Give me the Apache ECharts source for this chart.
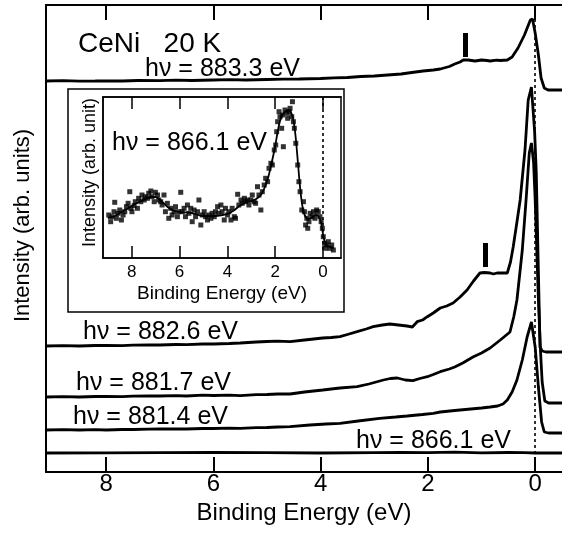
<!DOCTYPE html>
<html><head><meta charset="utf-8">
<script src="https://cdn.jsdelivr.net/npm/echarts@6/dist/echarts.min.js"></script>
<style>html,body{margin:0;padding:0;background:#fff}#c{width:562px;height:536px}</style>
</head><body><div id="c"></div>
<script>
// ---- data (binding energy eV, intensity arb. units) ----
const tickValues = [0, 2, 4, 6, 8];

const hv883_3 = [[9.12,391],[8.8,391.3],[8.5,390.8],[8.2,391],[8.0,391.2],[7.7,391],[7.4,391.5],[7.0,391.3],[6.7,391.8],[6.4,391.5],[6.0,392],[5.7,392.3],[5.4,392],[5.0,392.5],[4.7,392.8],[4.4,393],[4.0,393.5],[3.75,394.2],[3.5,394.5],[3.25,395.5],[3.0,396],[2.75,397],[2.5,398],[2.3,399.5],[2.09,401],[1.9,402],[1.77,403],[1.6,405.5],[1.5,408],[1.4,410],[1.34,412],[1.25,412],[1.12,411],[1.0,412],[0.9,411.5],[0.84,411],[0.72,411.8],[0.65,411.5],[0.52,412],[0.43,415],[0.32,424],[0.2,437],[0.09,452],[0.05,453],[0,439],[-0.06,417],[-0.11,394],[-0.17,384],[-0.24,382],[-0.35,382],[-0.5,382]];

const hv882_6 = [[9.12,126],[8.8,126.3],[8.5,126],[8.2,126.5],[8.0,126.5],[7.7,126.3],[7.5,126.8],[7.2,127],[7.0,127],[6.7,127.5],[6.5,127.3],[6.2,128],[6.0,128],[5.7,128.5],[5.5,129],[5.2,130],[5.0,130.5],[4.8,130.8],[4.57,130.3],[4.3,132],[3.96,134],[3.8,134.5],[3.64,135.3],[3.5,137.5],[3.32,140.3],[3.15,143],[3.02,145.3],[2.85,147],[2.71,148],[2.55,147],[2.39,146],[2.29,145],[2.2,150.3],[2.1,152],[2.01,155.3],[1.9,159],[1.77,164],[1.65,166],[1.53,169],[1.4,175],[1.27,182],[1.15,191],[1.03,199],[0.95,199.5],[0.84,199],[0.78,198],[0.71,199],[0.6,199],[0.52,199],[0.46,210],[0.41,225],[0.34,250],[0.28,272],[0.19,322],[0.13,372],[0.07,385],[0.04,383],[0.01,340],[-0.02,300],[-0.06,200],[-0.09,125],[-0.13,121],[-0.2,120],[-0.35,120],[-0.5,120]];

const hv881_7 = [[9.12,75],[8.8,75.3],[8.5,75],[8.2,75.5],[8.0,75.5],[7.7,75.3],[7.5,75.8],[7.2,76],[7.0,76],[6.7,76.3],[6.5,76],[6.2,76.8],[6.0,76.5],[5.7,76.8],[5.5,76.3],[5.2,77.3],[5.0,77.5],[4.8,78],[4.57,78],[4.3,80],[3.96,82],[3.64,84],[3.32,85.3],[3.1,88],[2.83,92],[2.7,93.5],[2.57,94],[2.42,92],[2.28,91.3],[2.15,93.5],[2.01,95.3],[1.9,97.5],[1.77,100.3],[1.6,103],[1.5,105],[1.35,109],[1.16,115],[1.0,119],[0.84,124],[0.65,132],[0.47,140],[0.4,155],[0.34,172],[0.24,222],[0.17,272],[0.11,319],[0.07,329],[0.03,310],[0.0,272],[-0.06,172],[-0.1,120],[-0.13,90],[-0.18,71],[-0.25,69],[-0.5,69]];

const hv881_4 = [[9.12,42],[8.8,42.3],[8.5,42],[8.2,42.3],[8.0,42],[7.7,42.5],[7.5,42.5],[7.2,42.8],[7.0,43],[6.7,43.2],[6.5,43],[6.2,43.5],[6.0,43.5],[5.7,43.8],[5.5,43.7],[5.2,44.3],[5.0,44.5],[4.8,45],[4.57,45.3],[4.2,47],[3.9,48],[3.64,48.7],[3.3,51],[2.9,53.7],[2.6,55],[2.39,56],[2.1,57.5],[1.9,58.7],[1.77,60],[1.5,61.5],[1.2,63],[1.0,64],[0.84,65],[0.7,66],[0.6,68],[0.52,72],[0.43,80],[0.34,92],[0.24,112],[0.15,135],[0.07,150],[0.04,148],[0.0,125],[-0.06,85],[-0.12,50],[-0.17,40],[-0.25,39],[-0.5,39]];

const hv866_1 = [[9.12,19],[8.0,19.2],[7.0,19.3],[6.0,19.5],[5.0,19.3],[4.0,19],[3.0,19.4],[2.5,19.6],[2.0,19.4],[1.5,19.8],[1.0,19.2],[0.5,19.5],[0.2,19.3],[0,19],[-0.5,19]];

// inset (hv = 866.1 eV, magnified)
const insetPoints = [[8.96,43],[8.88,36.3],[8.82,41.3],[8.74,46.3],[8.71,55.7],[8.64,39.7],[8.57,44.7],[8.50,48],[8.43,38],[8.36,43],[8.29,46.3],[8.22,51.3],[8.15,54.7],[8.08,66.3],[8.04,49.7],[7.99,46.3],[7.90,52.3],[7.85,56.3],[7.76,49.7],[7.71,59.7],[7.62,56.3],[7.57,63],[7.48,58],[7.43,61.3],[7.34,59.7],[7.29,64.7],[7.20,67],[7.15,61.3],[7.06,56.3],[7.01,65.7],[6.92,63],[6.87,58],[6.79,56.3],[6.73,53],[6.65,63],[6.59,46.3],[6.51,54.7],[6.45,39.7],[6.37,49.7],[6.31,43],[6.23,46.3],[6.17,51.3],[6.09,41.3],[6.03,46.3],[5.95,65.7],[5.89,46.3],[5.81,49.7],[5.75,41.3],[5.67,53],[5.61,44.7],[5.53,49.7],[5.47,36.3],[5.39,48],[5.33,41.3],[5.25,46.3],[5.19,58],[5.11,33],[5.05,43],[4.97,46.3],[4.91,41.3],[4.83,38],[4.77,43],[4.69,39.7],[4.64,44.7],[4.55,41.3],[4.50,46.3],[4.41,51.3],[4.36,44.7],[4.27,53],[4.22,46.3],[4.13,38],[4.08,49.7],[3.99,43],[3.94,46.3],[3.85,38],[3.80,49.7],[3.71,41.3],[3.66,39.7],[3.57,63.7],[3.52,53],[3.43,58],[3.38,54.7],[3.29,59.7],[3.24,56.3],[3.16,58],[3.10,53],[3.02,58],[2.96,63],[2.88,56.3],[2.82,54.7],[2.74,71.3],[2.68,63],[2.60,48],[2.54,66.3],[2.46,73],[2.40,79.7],[2.32,76.3],[2.26,89.7],[2.18,94.7],[2.12,93],[2.04,108],[1.98,113],[1.94,126.3],[1.90,136.3],[1.84,146.3],[1.80,141.3],[1.73,129.7],[1.70,143],[1.66,111.3],[1.59,148],[1.52,144.7],[1.48,139.7],[1.42,146.3],[1.38,149.7],[1.31,141.3],[1.28,156.3],[1.24,136.3],[1.20,129.7],[1.14,114.7],[1.06,93],[1.01,76.3],[0.96,66.3],[0.89,48],[0.82,56.3],[0.78,46.3],[0.73,33],[0.68,39.7],[0.64,29.7],[0.59,36.3],[0.54,44.7],[0.47,41.3],[0.40,46.3],[0.34,39.7],[0.27,48],[0.20,46.3],[0.13,41.3],[0.08,36.3],[0.03,29.7],[-0.01,21.3],[-0.06,14.7],[-0.11,9.7],[-0.15,13],[-0.22,16.3],[-0.29,9.7],[-0.36,13],[-0.43,8]];

const insetFit = [[9.0,40],[8.7,42],[8.5,45],[8.2,49],[8.0,52],[7.7,56],[7.5,58],[7.2,61],[7.0,61],[6.8,58],[6.5,51],[6.2,47],[6.0,46],[5.5,45],[5.0,42],[4.5,42],[4.2,43],[4.0,44],[3.7,48],[3.5,52],[3.2,56],[3.0,57],[2.8,59],[2.6,63],[2.45,70],[2.3,80],[2.15,95],[2.0,112],[1.9,126],[1.8,137],[1.7,143],[1.6,146],[1.45,148],[1.35,146],[1.25,139],[1.15,122],[1.05,95],[0.95,68],[0.85,50],[0.75,42],[0.6,39],[0.45,41],[0.3,43],[0.2,42],[0.1,37],[0.03,28],[-0.05,18],[-0.15,13],[-0.3,11],[-0.45,10]];

const markerBars = [[1.31, 415, 439], [0.93, 205, 229]];

const mainLabels = ['hν = 883.3 eV', 'hν = 882.6 eV', 'hν = 881.7 eV', 'hν = 881.4 eV', 'hν = 866.1 eV'];
const insetLabel = 'hν = 866.1 eV';
const title = 'CeNi   20 K';

// ---- chart ----
const FONT = '"Liberation Sans", Arial, Helvetica, sans-serif';
const BLACK = '#000';
const chart = echarts.init(document.getElementById('c'), null, {renderer: 'canvas'});

function lineSeries(data, xi, yi, width) {
  return {type: 'line', xAxisIndex: xi, yAxisIndex: yi, data: data, showSymbol: false, symbol: 'none',
          lineStyle: {color: BLACK, width: width}, silent: true, z: 3};
}

const series = [
  lineSeries(hv883_3, 0, 0, 2.8),
  lineSeries(hv882_6, 0, 0, 2.8),
  lineSeries(hv881_7, 0, 0, 2.8),
  lineSeries(hv881_4, 0, 0, 2.8),
  Object.assign(lineSeries(hv866_1, 0, 0, 2.8), {
    markLine: {silent: true, symbol: 'none', label: {show: false},
      lineStyle: {color: BLACK, width: 1.6, type: [3, 3]},
      data: [{xAxis: 0}]}
  }),
  {type: 'line', xAxisIndex: 0, yAxisIndex: 0, data: [], silent: true,
    markLine: {silent: true, symbol: 'none', label: {show: false},
      lineStyle: {color: BLACK, width: 5, type: 'solid'},
      data: markerBars.map(b => [{coord: [b[0], b[1]]}, {coord: [b[0], b[2]]}])}},
  {type: 'scatter', xAxisIndex: 2, yAxisIndex: 1, data: insetPoints, symbol: 'rect', symbolSize: 5,
    itemStyle: {color: BLACK}, silent: true, z: 4},
  Object.assign(lineSeries(insetFit, 2, 1, 1.8), {
    smooth: 0.3,
    markLine: {silent: true, symbol: 'none', label: {show: false},
      lineStyle: {color: BLACK, width: 1.6, type: [3, 3]},
      data: [[{coord: [0, 8]}, {coord: [0, 161]}]]}
  })
];

const mainAxisLine = {show: true, onZero: false, lineStyle: {color: BLACK, width: 2}};

const option = {
  animation: false,
  backgroundColor: '#fff',
  textStyle: {fontFamily: FONT, color: BLACK},
  grid: [
    {left: 46, top: 5, width: 516, height: 467},
    {left: 103, top: 97, width: 238, height: 161, show: true, borderColor: BLACK, borderWidth: 1.5, backgroundColor: 'transparent'}
  ],
  xAxis: [
    {gridIndex: 0, type: 'value', min: -0.5, max: 9.12, inverse: true, position: 'bottom',
      axisLine: mainAxisLine,
      axisTick: {show: true, inside: true, length: 15, customValues: tickValues, lineStyle: {color: BLACK, width: 2}},
      axisLabel: {show: true, customValues: tickValues, fontSize: 24, color: BLACK, margin: 0, fontFamily: FONT},
      splitLine: {show: false},
      name: 'Binding Energy (eV)', nameLocation: 'middle', nameGap: 18,
      nameTextStyle: {fontSize: 24, color: BLACK, fontFamily: FONT}},
    {gridIndex: 0, type: 'value', min: -0.5, max: 9.12, inverse: true, position: 'top',
      axisLine: mainAxisLine,
      axisTick: {show: true, inside: true, length: 15, customValues: tickValues, lineStyle: {color: BLACK, width: 2}},
      axisLabel: {show: false}, splitLine: {show: false}},
    {gridIndex: 1, type: 'value', min: -0.75, max: 9.2, inverse: true, position: 'bottom',
      axisLine: {show: true, onZero: false, lineStyle: {color: BLACK, width: 1.5}},
      axisTick: {show: true, inside: true, length: 12, customValues: tickValues, lineStyle: {color: BLACK, width: 1.5}},
      axisLabel: {show: true, customValues: tickValues, fontSize: 17, color: BLACK, margin: 6, fontFamily: FONT},
      splitLine: {show: false},
      name: 'Binding Energy (eV)', nameLocation: 'middle', nameGap: 26,
      nameTextStyle: {fontSize: 19, color: BLACK, fontFamily: FONT}},
    {gridIndex: 1, type: 'value', min: -0.75, max: 9.2, inverse: true, position: 'top',
      axisLine: {show: true, onZero: false, lineStyle: {color: BLACK, width: 1.5}},
      axisTick: {show: true, inside: true, length: 12, customValues: tickValues, lineStyle: {color: BLACK, width: 1.5}},
      axisLabel: {show: false}, splitLine: {show: false}}
  ],
  yAxis: [
    {gridIndex: 0, type: 'value', min: 0, max: 467,
      axisLine: mainAxisLine, axisTick: {show: false}, axisLabel: {show: false}, splitLine: {show: false},
      name: 'Intensity (arb. units)', nameLocation: 'middle', nameGap: 12,
      nameTextStyle: {fontSize: 22, color: BLACK, fontFamily: FONT, padding: [0, 0, 0, 26]}},
    {gridIndex: 1, type: 'value', min: 0, max: 161,
      axisLine: {show: true, onZero: false, lineStyle: {color: BLACK, width: 1.5}},
      axisTick: {show: false}, axisLabel: {show: false}, splitLine: {show: false},
      name: 'Intensity (arb. unit)', nameLocation: 'middle', nameGap: 4,
      nameTextStyle: {fontSize: 18, color: BLACK, fontFamily: FONT, padding: [0, 0, 0, 10]}}
  ],
  graphic: [
    {type: 'rect', z: -1, shape: {x: 68, y: 89, width: 276, height: 223},
      style: {fill: '#fff', stroke: BLACK, lineWidth: 1.5}, silent: true},
    {type: 'text', x: 78, y: 44, z: 10, style: {text: title, font: '28px ' + FONT, fill: BLACK, verticalAlign: 'middle'}},
    {type: 'text', x: 145, y: 69, z: 10, style: {text: mainLabels[0], font: '25px ' + FONT, fill: BLACK, verticalAlign: 'middle'}},
    {type: 'text', x: 83, y: 332, z: 10, style: {text: mainLabels[1], font: '25px ' + FONT, fill: BLACK, verticalAlign: 'middle'}},
    {type: 'text', x: 76, y: 383, z: 10, style: {text: mainLabels[2], font: '25px ' + FONT, fill: BLACK, verticalAlign: 'middle'}},
    {type: 'text', x: 73, y: 417, z: 10, style: {text: mainLabels[3], font: '25px ' + FONT, fill: BLACK, verticalAlign: 'middle'}},
    {type: 'text', x: 356, y: 441, z: 10, style: {text: mainLabels[4], font: '25px ' + FONT, fill: BLACK, verticalAlign: 'middle'}},
    {type: 'text', x: 112, y: 143, z: 10, style: {text: insetLabel, font: '25px ' + FONT, fill: BLACK, verticalAlign: 'middle'}}
  ],
  series: series
};
chart.setOption(option);
</script>
</body></html>
